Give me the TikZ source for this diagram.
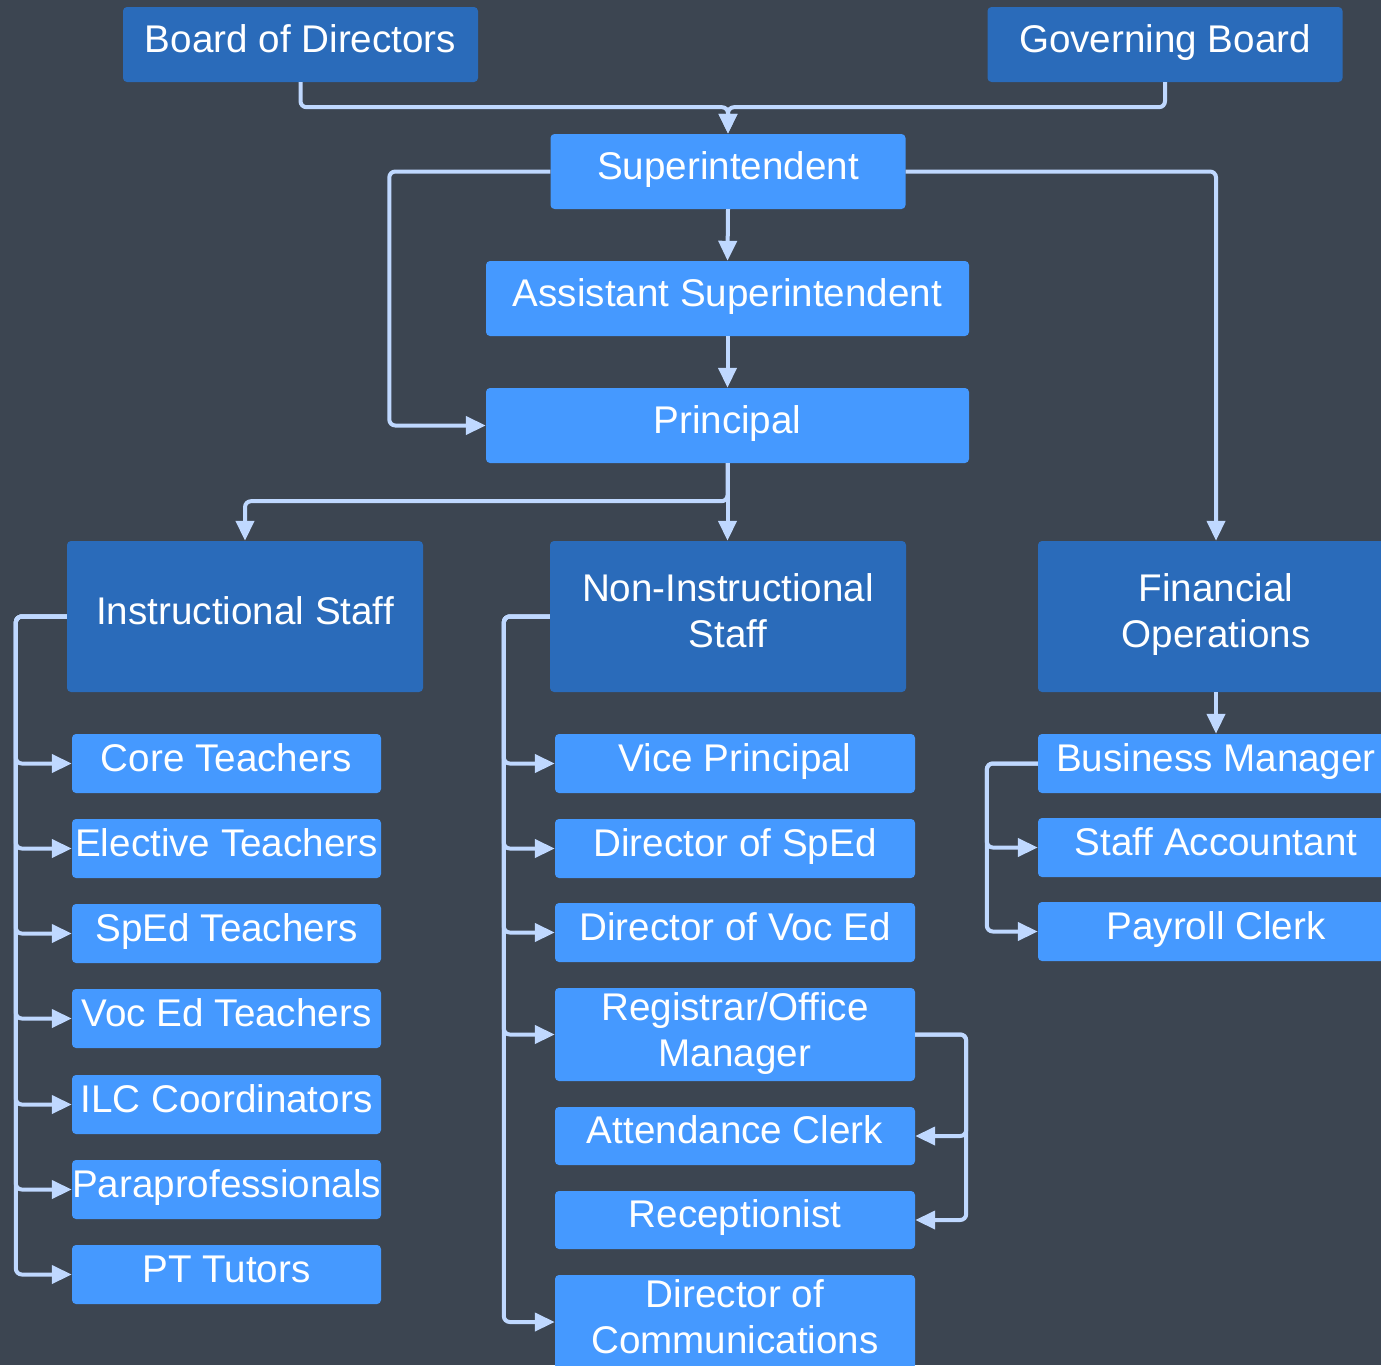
\documentclass[tikz,border=0pt]{standalone}
\usepackage{fontspec}
\setmainfont{Liberation Sans}
\usetikzlibrary{arrows.meta}
\definecolor{bg}{HTML}{3C4551}
\definecolor{darkbox}{HTML}{2A6BBA}
\definecolor{lightbox}{HTML}{4599FF}
\definecolor{wire}{HTML}{BFD8FF}
\tikzset{
  box/.style={rectangle, rounded corners=4pt, inner sep=0pt, draw=none},
  dbox/.style={box, fill=darkbox},
  lbox/.style={box, fill=lightbox},
  txt/.style={text=white, font=\fontsize{38.6}{46}\selectfont, inner sep=0pt},
  lab/.style={label={[txt, yshift=2pt, text height=27.6pt, text depth=8pt]center:#1}},
  lab2/.style 2 args={label={[txt, align=center, yshift=#1]center:#2}},
  conn/.style={draw=wire, line width=4pt, rounded corners=6pt, -{Triangle[length=20pt,width=18pt]}},
  sizeA/.style={minimum width=355pt, minimum height=75pt},
  sizeB/.style={minimum width=483pt, minimum height=75pt},
  sizeC/.style={minimum width=356pt, minimum height=151pt},
  leftkid/.style={lbox, minimum width=309pt, minimum height=59pt},
  midkid/.style={lbox, minimum width=360pt, minimum height=59pt},
  rightkid/.style={lbox, minimum width=356pt, minimum height=59pt},
}
\begin{document}
\begin{tikzpicture}[x=1pt, y=-1pt]
\fill[bg] (0,0) rectangle (1381,1365);
\useasboundingbox (0,0) rectangle (1381,1365);
\clip (0,0) rectangle (1381,1365);

% top
\node[dbox, sizeA, lab={Board of Directors}] (bod) at (300.5,44.5) {};
\node[dbox, sizeA, lab={Governing Board}] (gb) at (1165,44.5) {};
\node[lbox, sizeA, lab={Superintendent}] (sup) at (728,171.5) {};
\node[lbox, sizeB, lab={Assistant Superintendent}] (asup) at (727.5,298.5) {};
\node[lbox, sizeB, lab={Principal}] (prin) at (727.5,425.5) {};

% second tier
\node[dbox, sizeC, lab={Instructional Staff}] (ins) at (245,616.5) {};
\node[dbox, sizeC, lab2={5.5pt}{Non-Instructional\\Staff}] (nins) at (728,616.5) {};
\node[dbox, sizeC, lab2={1.5pt}{Financial\\Operations}] (fin) at (1216,616.5) {};

% instructional children
\node[leftkid, lab={Core Teachers}] (ct) at (226.5,763.5) {};
\node[leftkid, lab={Elective Teachers}] (et) at (226.5,848.5) {};
\node[leftkid, lab={SpEd Teachers}] (st) at (226.5,933.5) {};
\node[leftkid, lab={Voc Ed Teachers}] (vt) at (226.5,1018.5) {};
\node[leftkid, lab={ILC Coordinators}] (ilc) at (226.5,1104.5) {};
\node[leftkid, lab={Paraprofessionals}] (pp) at (226.5,1189.5) {};
\node[leftkid, lab={PT Tutors}] (pt) at (226.5,1274.5) {};

% non-instructional children
\node[midkid, lab={Vice Principal}] (vp) at (735,763.5) {};
\node[midkid, lab={Director of SpEd}] (dsp) at (735,848.5) {};
\node[midkid, lab={Director of Voc Ed}] (dve) at (735,932.5) {};
\node[midkid, minimum height=93pt, lab2={1pt}{Registrar/Office\\Manager}] (reg) at (735,1034.5) {};
\node[midkid, minimum height=58pt, lab={Attendance Clerk}] (att) at (735,1136) {};
\node[midkid, minimum height=58pt, lab={Receptionist}] (rec) at (735,1220) {};
\node[midkid, minimum height=94pt, lab2={5.5pt}{Director of\\Communications}] (dcom) at (735,1322) {};

% financial children
\node[rightkid, lab={Business Manager}] (bm) at (1216,763.5) {};
\node[rightkid, lab={Staff Accountant}] (sa) at (1216,847.5) {};
\node[rightkid, lab={Payroll Clerk}] (pc) at (1216,931.5) {};

% connectors
\draw[conn] (bod.south) -- ++(0,25) -| (sup.north);
\draw[conn] (gb.south) -- ++(0,25) -| (sup.north);
\draw[conn] (sup.south) -- (asup.north);
\draw[conn] (asup.south) -- (prin.north);
\draw[conn] (sup.west) -- ++(-161,0) |- (prin.west);
\draw[conn] (sup.east) -| (fin.north);
\draw[conn] (prin.south) -- ++(0,38) -| (ins.north);
\draw[conn] (prin.south) -- (prin.south |- nins.north);

\foreach \k in {ct,et,st,vt,ilc,pp,pt}
  \draw[conn] (ins.west) -- ++(-51,0) |- (\k.west);
\foreach \k in {vp,dsp,dve,reg,dcom}
  \draw[conn] (nins.west) -- ++(-46,0) |- (\k.west);
\foreach \k in {att,rec}
  \draw[conn] (reg.east) -- ++(51,0) |- (\k.east);
\draw[conn] (fin.south) -- (bm.north);
\foreach \k in {sa,pc}
  \draw[conn] (bm.west) -- ++(-51,0) |- (\k.west);
\end{tikzpicture}
\end{document}
